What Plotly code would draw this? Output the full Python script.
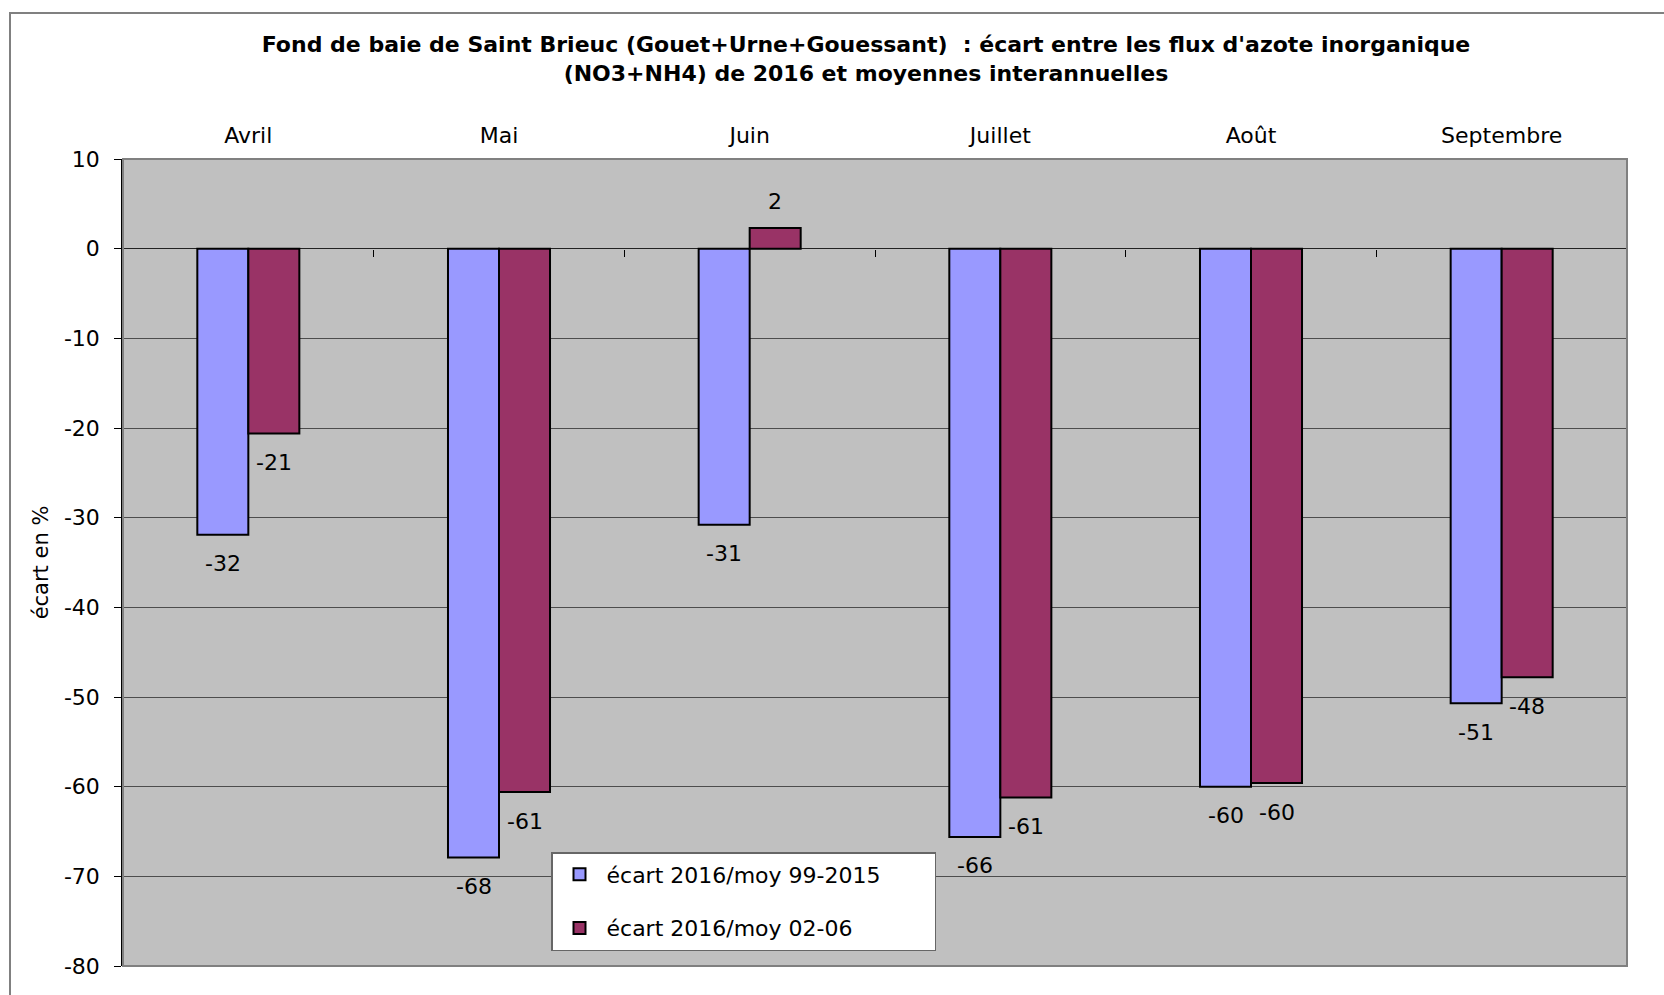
import plotly.graph_objects as go

categories = ["Avril", "Mai", "Juin", "Juillet", "Août", "Septembre"]
ecart_99_2015 = [-31.9, -67.9, -30.8, -65.6, -60.0, -50.7]
ecart_02_06 = [-20.6, -60.6, 2.3, -61.2, -59.6, -47.8]
series_names = ["écart 2016/moy 99-2015", "écart 2016/moy 02-06"]
y_ticks = [10, 0, -10, -20, -30, -40, -50, -60, -70, -80]
y_tick_text = [str(t) for t in y_ticks]

FONT = "DejaVu Sans, Arial, sans-serif"
colors = ["#9999FF", "#993366"]
PAD = "\u00a0" * 7

fig = go.Figure()
for i, (name, vals) in enumerate(zip(series_names, [ecart_99_2015, ecart_02_06])):
    fig.add_trace(go.Bar(
        x=categories, y=vals, name=name + PAD,
        marker=dict(color=colors[i], line=dict(color="black", width=2)),
        legendgroup=f"g{i}",
    ))

# invisible trace to register the category-axis tick axis
fig.add_trace(go.Scatter(x=[], y=[], xaxis="x2", yaxis="y", showlegend=False, hoverinfo="skip"))

# value labels
for i, vals in enumerate([ecart_99_2015, ecart_02_06]):
    shift = -25.5 if i == 0 else 25.5
    for c, v in zip(categories, vals):
        fig.add_annotation(
            x=c, y=v, xref="x", yref="y", text=f"{round(v):.0f}",
            showarrow=False, xshift=shift, yshift=(-29 if v < 0 else 27),
            font=dict(family=FONT, size=22, color="black"),
            xanchor="center", yanchor="middle",
        )

ymin, ymax = -80, 10
fig.update_layout(
    width=1664, height=995,
    margin=dict(l=123, r=37, t=159, b=29, pad=0),
    paper_bgcolor="white",
    plot_bgcolor="#C0C0C0",
    barmode="group", bargap=0.593, bargroupgap=0,
    font=dict(family=FONT, size=22, color="black"),
    title=dict(
        text="Fond de baie de Saint Brieuc (Gouet+Urne+Gouessant)  : écart entre les flux d'azote inorganique<br>(NO3+NH4) de 2016 et moyennes interannuelles",
        font=dict(family=FONT, size=22, color="black", weight="bold"),
        xref="container", x=866/1664, xanchor="center",
        yref="container", y=1 - 52/995, yanchor="middle",
    ),
    xaxis=dict(
        type="category", side="top", showgrid=False, zeroline=False,
        ticks="", showline=False, ticklabelstandoff=11,
        tickfont=dict(family=FONT, size=22, color="black"),
    ),
    xaxis2=dict(
        type="linear", overlaying="x", anchor="free",
        position=(0 - ymin) / (ymax - ymin), side="bottom",
        range=[-0.5, 5.5], tickvals=[k - 0.5 for k in range(7)],
        ticks="outside", ticklen=7, tickcolor="black", tickwidth=1,
        showticklabels=False, showgrid=False, zeroline=False, showline=False,
    ),
    yaxis=dict(
        range=[ymin, ymax], tickvals=y_ticks, ticktext=y_tick_text,
        ticks="outside", ticklen=7, tickcolor="black", tickwidth=1,
        showline=True, linecolor="black", linewidth=1.5,
        gridcolor="#4d4d4d", gridwidth=1,
        zeroline=True, zerolinecolor="#222222", zerolinewidth=1.2,
        tickfont=dict(family=FONT, size=22, color="black"),
        ticklabelstandoff=10,
        title=dict(text="écart en %", font=dict(family=FONT, size=21, color="black"), standoff=10),
    ),
    legend=dict(
        x=(551 - 123) / 1504, y=(966 - 852) / 807, xanchor="left", yanchor="top",
        bgcolor="white", bordercolor="#666666", borderwidth=1.5,
        font=dict(family=FONT, size=22, color="black"),
        tracegroupgap=22, traceorder="grouped", itemwidth=44,
    ),
    showlegend=True,
)

# plot-area border (top/right/bottom gray)
fig.add_shape(type="rect", xref="x domain", yref="y domain", x0=0, x1=1, y0=0, y1=1,
              line=dict(color="#808080", width=2), layer="above")
# outer chart frame
fig.add_shape(type="rect", xref="paper", yref="paper",
              x0=(10 - 123) / 1504, x1=1.2, y0=-0.2, y1=(966 - 13) / 807,
              line=dict(color="#808080", width=2), layer="below")

fig.write_html("out.html")
